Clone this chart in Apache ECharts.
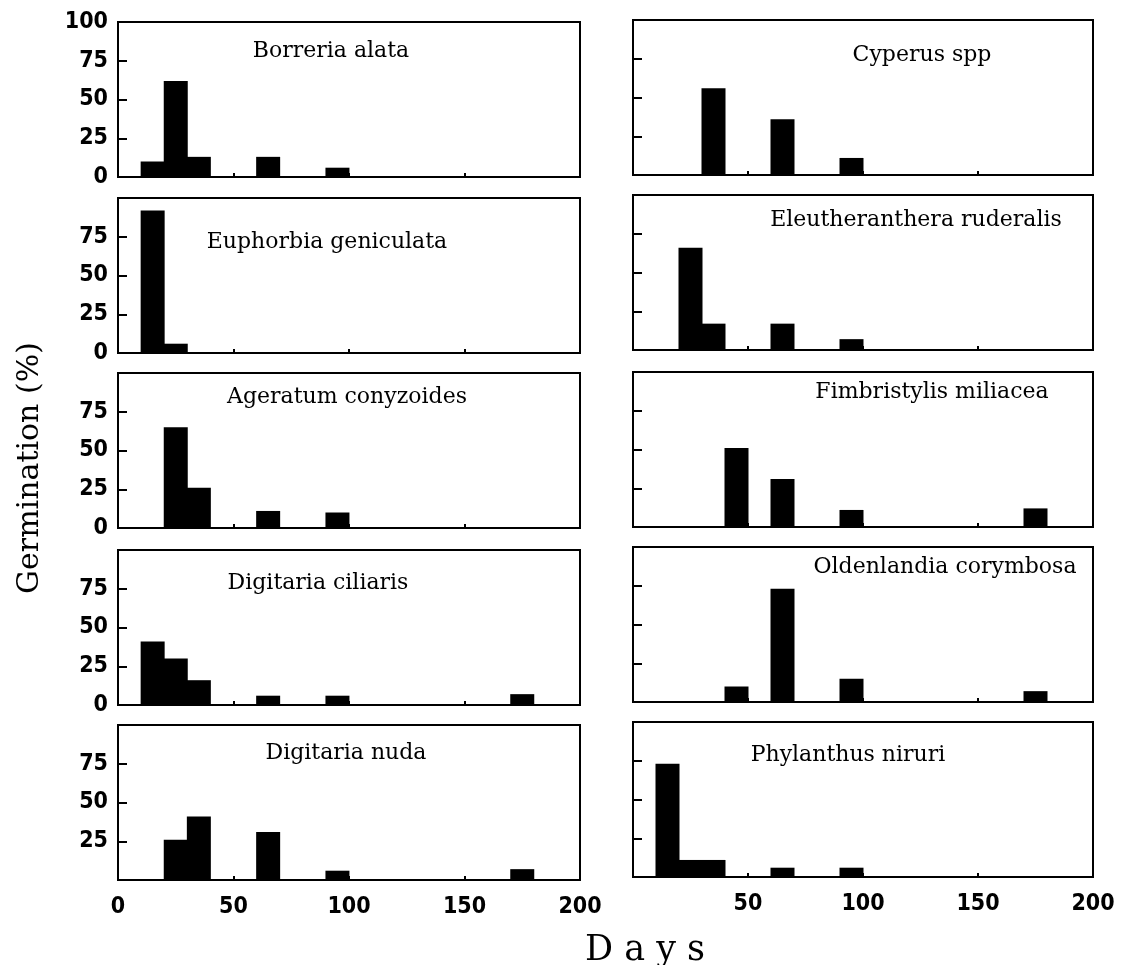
<!DOCTYPE html>
<html>
<head>
<meta charset="utf-8">
<script src="https://cdn.jsdelivr.net/npm/echarts@6/dist/echarts.min.js"></script>
<style>
  html, body { margin: 0; padding: 0; background: #fff; }
  #chart { width: 1125px; height: 965px; }
</style>
</head>
<body>
<div id="chart"></div>
<script>
// bin centres in days, shared by every panel
const binDays = [15, 25, 35, 45, 65, 95, 175];

// germination (%) per bin, same order as binDays
const borreriaAlata = [10, 62, 13, 0, 13, 6, 0];
const euphorbiaGeniculata = [92, 6, 0, 0, 0, 0, 0];
const ageratumConyzoides = [0, 65, 26, 0, 11, 10, 0];
const digitariaCiliaris = [41, 30, 16, 0, 6, 6, 7];
const digitariaNuda = [0, 26, 41, 0, 31, 6, 7];
const cyperusSpp = [0, 0, 56, 0, 36, 11, 0];
const eleutherantheraRuderalis = [0, 66, 17, 0, 17, 7, 0];
const fimbristylisMiliacea = [0, 0, 0, 51, 31, 11, 12];
const oldenlandiaCorymbosa = [0, 0, 0, 10, 73, 15, 7];
const phylanthusNiruri = [73, 11, 11, 0, 6, 6, 0];

const speciesNames = [
  "Borreria alata", "Euphorbia geniculata", "Ageratum conyzoides", "Digitaria ciliaris", "Digitaria nuda",
  "Cyperus spp", "Eleutheranthera ruderalis", "Fimbristylis miliacea", "Oldenlandia corymbosa", "Phylanthus niruri"
];
const speciesValues = [
  borreriaAlata, euphorbiaGeniculata, ageratumConyzoides, digitariaCiliaris, digitariaNuda,
  cyperusSpp, eleutherantheraRuderalis, fimbristylisMiliacea, oldenlandiaCorymbosa, phylanthusNiruri
];

// tick labels that are printed
const yLabelsTop = [0, 25, 50, 75, 100];
const yLabelsMid = [0, 25, 50, 75];
const yLabelsBottom = [25, 50, 75];
const xLabelsLeft = [0, 50, 100, 150, 200];
const xLabelsRight = [50, 100, 150, 200];

// panel placement
const colLeft = [118, 633];
const colWidth = [462, 460];
const rowTop = [[22, 198, 373, 550, 725], [20, 195, 372, 547, 722]];
const panelHeight = 155;
// where the species name sits inside each panel (centre x, centre y)
const namePos = [
  [331, 51], [327, 242], [347, 397], [318, 583], [346, 753],
  [922, 55], [916, 220], [932, 392], [945, 567], [848, 755]
];

const numFont = '"Liberation Sans Narrow", "DejaVu Sans Condensed", sans-serif';
const serifFont = '"DejaVu Serif", serif';

const grids = [], xAxes = [], yAxes = [], series = [], graphics = [];

speciesNames.forEach((name, i) => {
  const col = i < 5 ? 0 : 1;
  const row = i % 5;
  grids.push({
    left: colLeft[col], top: rowTop[col][row], width: colWidth[col], height: panelHeight,
    show: true, borderColor: "#000", borderWidth: 2, backgroundColor: "transparent"
  });

  let yShown = [];
  if (col === 0) yShown = row === 0 ? yLabelsTop : row === 4 ? yLabelsBottom : yLabelsMid;
  let xShown = [];
  if (row === 4) xShown = col === 0 ? xLabelsLeft : xLabelsRight;

  xAxes.push({
    gridIndex: i, type: "value", min: 0, max: 200, interval: 50,
    axisLine: { show: true, lineStyle: { color: "#000", width: 2 } },
    axisTick: { show: true, inside: true, length: 4, lineStyle: { color: "#000", width: 2 } },
    splitLine: { show: false },
    axisLabel: {
      show: row === 4, margin: 16, color: "#000",
      fontFamily: numFont, fontWeight: "bold", fontSize: 23,
      formatter: v => xShown.includes(v) ? String(v) : ""
    }
  });
  yAxes.push({
    gridIndex: i, type: "value", min: 0, max: 100, interval: 25,
    axisLine: { show: true, lineStyle: { color: "#000", width: 2 } },
    axisTick: { show: true, inside: true, length: 9, lineStyle: { color: "#000", width: 2 } },
    splitLine: { show: false },
    axisLabel: {
      show: col === 0, margin: 10, color: "#000",
      fontFamily: numFont, fontWeight: "bold", fontSize: 23,
      formatter: v => yShown.includes(v) ? String(v) : ""
    }
  });
  series.push({
    type: "bar", xAxisIndex: i, yAxisIndex: i, barWidth: 24,
    itemStyle: { color: "#000" },
    data: binDays.map((d, k) => [d, speciesValues[i][k]]).filter(p => p[1] > 0)
  });
  graphics.push({
    type: "text", x: namePos[i][0], y: namePos[i][1],
    style: { text: name, font: "22px " + serifFont, fill: "#000", align: "center", verticalAlign: "middle" }
  });
});

graphics.push({
  type: "text", x: 30, y: 468, rotation: Math.PI / 2,
  style: { text: "Germination (%)", font: "30px " + serifFont, fill: "#000", align: "center", verticalAlign: "middle" }
});
graphics.push({
  type: "text", x: 645, y: 951,
  style: { text: "D a y s", font: "35px " + serifFont, fill: "#000", align: "center", verticalAlign: "middle" }
});

const chart = echarts.init(document.getElementById("chart"));
chart.setOption({
  backgroundColor: "#fff",
  animation: false,
  grid: grids,
  xAxis: xAxes,
  yAxis: yAxes,
  series: series,
  graphic: graphics
});
</script>
</body>
</html>
